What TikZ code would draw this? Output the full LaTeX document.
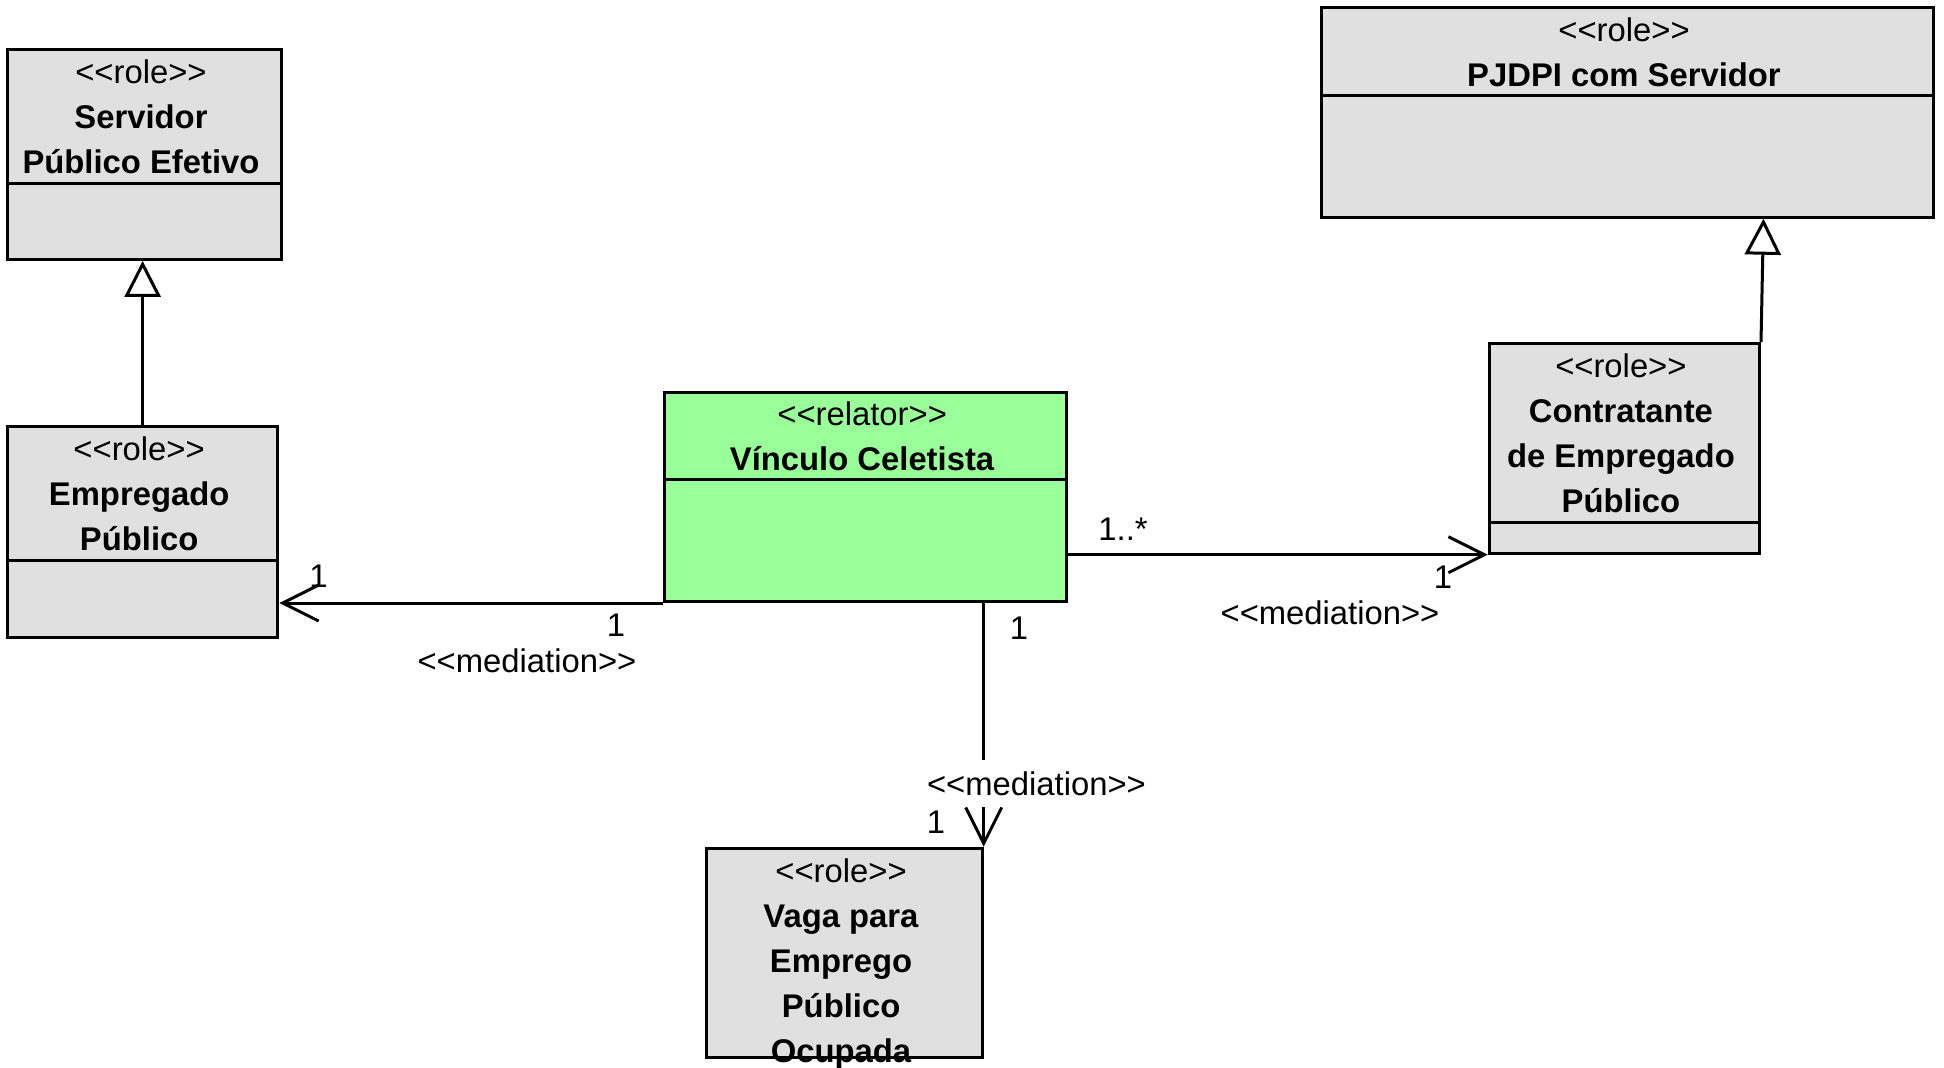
\documentclass[tikz,border=0pt]{standalone}
\usepackage{fontspec}
\setmainfont{Liberation Sans}[Ligatures=NoCommon]
\usetikzlibrary{arrows.meta,positioning,calc}
\definecolor{umlgray}{RGB}{224,224,224}
\definecolor{umlgreen}{RGB}{153,255,153}

\begin{document}
\begin{tikzpicture}[x=1pt,y=-1pt,
  cls/.style={draw,line width=3pt,fill=umlgray,anchor=north west,inner sep=0pt,minimum height=209.5pt},
  relbox/.style={cls,fill=umlgreen},
  ttl/.style={anchor=north,align=center,inner sep=0pt,font=\fontsize{32.8}{45}\selectfont},
  lbl/.style={inner sep=1pt,font=\fontsize{32.8}{39}\selectfont},
  divline/.style={line width=3pt},
  gen/.style={line width=3pt,-{Triangle[open,length=36pt,width=36pt]}},
  med/.style={line width=3pt,-{Straight Barb[length=36pt,width=36pt]}}]
\useasboundingbox (0,0) rectangle (1944,1068);
% classes
\node[cls,minimum width=274pt] (servidor) at (6,48.4) {};
\node[cls,minimum width=270.3pt,minimum height=210.5pt] (empregado) at (6,425.3) {};
\node[relbox,minimum width=401.7pt] (vinculo) at (663.3,390.5) {};
\node[cls,minimum width=611.2pt] (pjdpi) at (1320.4,6.2) {};
\node[cls,minimum width=270.2pt] (contratante) at (1487.8,342.2) {};
\node[cls,minimum width=275.3pt] (vaga) at (705.4,846.8) {};
% compartments
\draw[divline] ([yshift=-135pt]servidor.north west) -- ([yshift=-135pt]servidor.north east);
\draw[divline] ([yshift=-135.1pt]empregado.north west) -- ([yshift=-135.1pt]empregado.north east);
\draw[divline] ([yshift=-89.3pt]vinculo.north west) -- ([yshift=-89.3pt]vinculo.north east);
\draw[divline] ([yshift=-89.3pt]pjdpi.north west) -- ([yshift=-89.3pt]pjdpi.north east);
\draw[divline] ([yshift=-179.8pt]contratante.north west) -- ([yshift=-179.8pt]contratante.north east);
% names
\node[ttl] (servidorT) at ([xshift=-3.5pt,yshift=-11.5pt]servidor.north) {{<}{<}role{>}{>}\\\textbf{Servidor}\\\textbf{Público Efetivo}};
\node[ttl] (empregadoT) at ([xshift=-3.5pt,yshift=-11.5pt]empregado.north) {{<}{<}role{>}{>}\\\textbf{Empregado}\\\textbf{Público}};
\node[ttl] (vinculoT) at ([xshift=-3.5pt,yshift=-11.5pt]vinculo.north) {{<}{<}relator{>}{>}\\\textbf{Vínculo Celetista}};
\node[ttl] (pjdpiT) at ([xshift=-3.5pt,yshift=-11.5pt]pjdpi.north) {{<}{<}role{>}{>}\\\textbf{PJDPI com Servidor}};
\node[ttl] (contratanteT) at ([xshift=-3.5pt,yshift=-11.5pt]contratante.north) {{<}{<}role{>}{>}\\\textbf{Contratante}\\\textbf{de Empregado}\\\textbf{Público}};
\node[ttl] (vagaT) at ([xshift=-3.5pt,yshift=-11.5pt]vaga.north) {{<}{<}role{>}{>}\\\textbf{Vaga para}\\\textbf{Emprego}\\\textbf{Público}\\\textbf{Ocupada}};
% generalizations
\draw[gen] (empregado.north) -- (empregado.north |- servidor.south);
\draw[gen] (contratante.north east) -- ([xshift=136pt]pjdpi.south);
% mediations
\draw[med] (vinculo.south west) -- (vinculo.south west -| empregado.east);
\node[lbl] (m1a) at (318.6,576.5) {1};
\node[lbl] (m1b) at (616,625) {1};
\node[lbl] (m1) at (527,661) {{<}{<}mediation{>}{>}};
\draw[med] (vinculo.east |- contratante.south west) -- (contratante.south west);
\node[lbl] (m2a) at (1123,529.4) {1..*};
\node[lbl] (m2b) at (1443,577.7) {1};
\node[lbl] (m2) at (1330,612.5) {{<}{<}mediation{>}{>}};
\draw[med] (vinculo.south -| vaga.north east) -- (vaga.north east);
\node[lbl] (m3a) at (1019,628.6) {1};
\node[lbl,fill=white,inner ysep=11pt] (m3) at (1036.5,783.5) {{<}{<}mediation{>}{>}};
\node[lbl] (m3b) at (936,822) {1};
\end{tikzpicture}
\end{document}
